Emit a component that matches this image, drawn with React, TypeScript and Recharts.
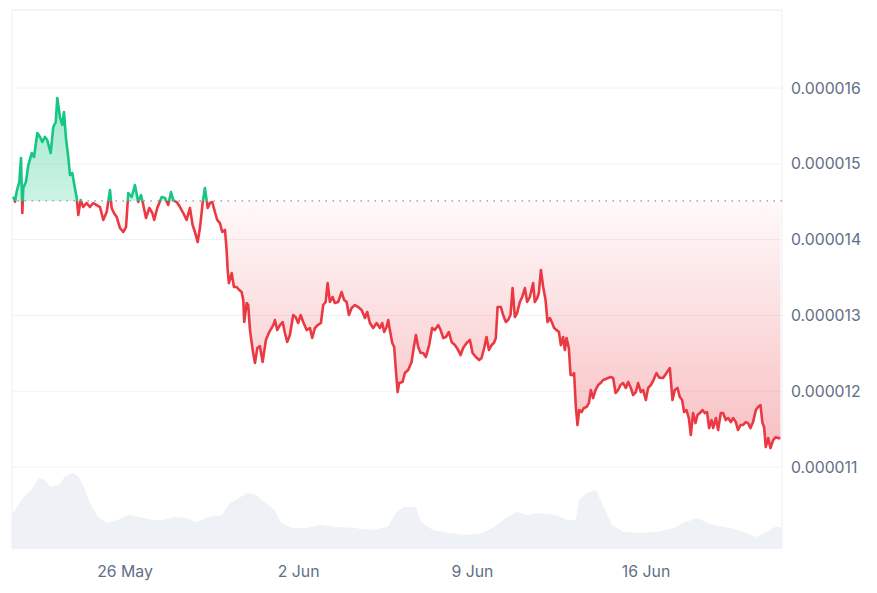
import {
  ComposedChart,
  Area,
  XAxis,
  YAxis,
  CartesianGrid,
  ReferenceLine,
  ReferenceArea,
} from "recharts";

// hours since 21 May 00:00
const priceHours = [
  12.0, 13.6, 15.2, 17.8, 19.4, 20.7, 21.6, 24.2, 26.5, 29.8, 32.0, 35.2, 37.8, 40.0, 42.6, 44.8, 48.1, 50.6, 53.0, 54.5,
  57.1, 59.3, 61.0, 62.9, 65.1, 66.8, 69.0, 71.0, 73.3, 74.8, 77.1, 79.6, 82.9, 86.1, 89.3, 92.6, 95.8, 99.0, 102.3, 105.5,
  107.1, 109.3, 112.0, 115.1, 118.3, 121.0, 123.2, 126.5, 129.6, 132.8,
  135.5, 137.7, 140.3, 143.5, 146.4, 148.3, 151.2, 155.5, 158.7, 161.8, 164.5, 166.7, 170.0, 173.2, 176.3, 179.6, 182.8,
  185.4, 187.7, 190.3, 192.5, 195.1, 197.3, 200.0, 202.2, 204.4, 207.0, 209.2, 211.8, 214.1, 216.7, 218.3, 219.3, 220.5,
  223.2, 225.4, 228.0, 230.5, 232.8, 234.4, 235.3, 237.7, 239.2, 240.9, 243.5, 245.7, 248.0, 250.5, 253.1, 256.3, 259.5,
  263.4, 265.0, 267.2, 269.9, 272.5, 274.7, 276.9, 279.5, 282.7, 285.0, 287.5, 289.9, 292.4, 295.7, 298.9, 301.1, 303.7,
  306.3, 309.5, 311.7, 314.1, 316.0, 318.2, 320.8, 323.0, 326.2, 329.5, 332.0, 334.4, 336.6, 339.2, 342.4, 345.6, 348.9,
  352.1, 354.3, 356.9, 360.1, 363.4, 366.6, 368.8, 370.7, 373.0, 374.6, 376.2, 378.5, 380.4, 382.0, 383.7,
  385.2, 388.5, 390.7, 393.9, 397.2, 399.4, 401.4, 403.6, 405.9, 408.4, 411.0, 414.2, 417.1, 419.7, 423.0, 425.3, 427.8,
  430.4, 433.3, 435.9, 439.1, 442.3, 444.6, 447.1, 450.4, 453.6, 456.2, 459.4, 462.6, 464.9, 467.4, 469.7, 472.0, 474.6,
  476.8, 478.7, 480.4, 483.6, 485.8, 488.4, 490.6, 492.9, 494.9, 497.1, 499.3, 501.9, 504.2, 506.8, 509.0, 511.6,
  514.8, 516.4, 518.7, 520.3, 522.3, 524.5, 526.8, 528.7, 531.0, 533.2, 535.1, 537.4, 539.7, 541.6, 543.8, 545.5, 547.1,
  549.3, 551.0, 552.9, 554.4, 556.1, 557.7, 559.3, 561.6, 563.8, 566.4, 568.7, 570.6, 572.8, 575.1, 577.7, 580.0, 582.5,
  585.1, 587.3, 589.7, 592.2, 594.5, 597.0, 599.3, 601.8, 604.4, 606.7, 609.3, 611.5, 614.1, 616.3, 619.0, 621.2, 623.8,
  626.0, 628.6, 630.8, 634.1, 636.7,
  640.5, 643.8, 647.0, 649.6, 651.8, 654.4, 656.7, 658.9, 660.8, 663.1, 665.4, 667.3, 669.5, 671.8, 673.8, 676.0, 678.6,
  680.8, 683.0, 685.0, 687.3, 688.9, 691.5, 693.7, 696.3, 698.5, 701.1, 703.4, 706.0, 708.2, 710.8, 713.0, 715.4, 717.9,
  720.5, 722.7, 725.0, 727.5, 730.2, 732.4, 734.7, 736.6, 738.2, 739.8, 742.1, 744.4, 746.9, 749.5, 751.7, 754.0,
];

// price in millionths of a dollar
const prices = [
  14.566, 14.5, 14.632, 14.764, 15.077, 14.351, 14.681, 14.764, 14.984, 15.142, 15.09, 15.406, 15.354, 15.288, 15.354,
  15.314, 15.142, 15.485, 15.551, 15.868, 15.617, 15.512, 15.683, 15.34, 15.09, 14.852, 14.879, 14.72, 14.549, 14.325,
  14.522, 14.43, 14.483, 14.43, 14.483, 14.456, 14.43, 14.259, 14.364, 14.654, 14.417, 14.351, 14.298, 14.153, 14.1,
  14.166, 14.615, 14.562, 14.72, 14.496,
  14.588, 14.456, 14.285, 14.417, 14.351, 14.259, 14.417, 14.562, 14.549, 14.456, 14.628, 14.522, 14.496, 14.43, 14.351,
  14.259, 14.417, 14.193, 14.1, 13.968, 14.153, 14.483, 14.681, 14.417, 14.483, 14.496, 14.364, 14.259, 14.219, 14.1,
  14.127, 13.863, 13.599, 13.427, 13.559, 13.375, 13.375, 13.335, 13.309, 13.203, 12.913, 13.164, 13.137, 12.807, 12.543,
  12.372, 12.57, 12.596, 12.385, 12.675, 12.781,
  12.873, 12.939, 12.807, 12.873, 12.913, 12.768, 12.649, 12.742, 13.005, 12.979, 12.9, 13.005, 12.913, 12.807, 12.834,
  12.702, 12.834, 12.873, 12.9, 13.137, 13.177, 13.427, 13.177, 13.243, 13.164, 13.177, 13.309, 13.203, 13.177, 13.005,
  13.098, 13.137, 13.111, 13.071, 12.966, 13.045, 12.9, 12.834, 12.9, 12.834, 12.9, 12.781, 12.847, 12.939, 12.807,
  12.636, 12.583, 12.28, 11.989,
  12.108, 12.122, 12.24, 12.28, 12.385, 12.583, 12.741, 12.583, 12.504, 12.504, 12.451, 12.609, 12.834, 12.807, 12.873,
  12.807, 12.702, 12.715, 12.781, 12.649, 12.609, 12.543, 12.477, 12.57, 12.636, 12.676, 12.504, 12.451, 12.412, 12.438,
  12.57, 12.715, 12.543, 12.609, 12.636, 12.702, 13.111, 13.111, 13.005, 12.913, 12.939, 13.005, 13.361, 12.979, 13.032,
  13.177, 13.243, 13.361, 13.177, 13.243,
  13.427, 13.177, 13.23, 13.296, 13.599, 13.375, 13.203, 12.913, 12.966, 12.9, 12.834, 12.807, 12.781, 12.609, 12.715,
  12.543, 12.702, 12.57, 12.214, 12.214, 12.24, 11.791, 11.554, 11.752, 11.725, 11.778, 11.791, 11.844, 12.016, 11.91,
  12.016, 12.082, 12.108, 12.148, 12.161, 12.174, 12.187, 12.174, 11.976, 12.016, 12.082, 12.108, 12.043, 12.122, 12.043,
  11.95, 11.989, 12.108, 11.989, 12.016, 11.884, 12.043, 12.082, 12.135, 12.24, 12.18,
  12.174, 12.24, 12.306, 11.884, 12.016, 12.043, 11.923, 11.884, 11.725, 11.752, 11.646, 11.422, 11.712, 11.58, 11.686,
  11.712, 11.752, 11.712, 11.725, 11.514, 11.62, 11.514, 11.646, 11.488, 11.712, 11.712, 11.62, 11.646, 11.593, 11.646,
  11.593, 11.488, 11.555, 11.555, 11.593, 11.58, 11.514, 11.593, 11.752, 11.791, 11.818, 11.58, 11.527, 11.264, 11.382,
  11.25, 11.355, 11.394, 11.382, 11.382,
];

const volumeHours = [
  10.7, 20.9, 29.1, 36.8, 42.6, 48.0, 56.2, 61.6, 69.7, 75.2, 80.3, 86.1, 93.9, 102.6, 113.2, 123.8, 134.5, 146.1, 156.7,
  167.4, 178.0, 189.6, 200.2, 213.8, 221.5, 230.2, 238.0, 246.7, 254.4, 265.0, 270.8, 281.5, 295.0, 308.5, 325.0, 341.4,
  357.9, 374.3, 382.0, 389.8, 401.4, 406.2, 417.8, 433.3, 449.7, 466.2, 476.8, 488.4, 499.0, 509.7, 520.3, 536.8, 547.4,
  556.1, 559.0, 566.7, 575.4, 583.2, 590.9, 602.5, 618.0, 634.4, 650.9, 659.6, 673.1, 688.6, 705.0, 721.4, 730.2, 740.8,
  748.5, 755.5,
];

const volumes = [
  33, 50, 58, 70, 68, 61, 63, 71, 75, 71, 61, 45, 31, 25, 28, 33, 31, 28, 28, 31, 30, 26, 31, 33, 45, 50, 55, 53, 46, 38,
  25, 20, 20, 23, 21, 20, 18, 21, 35, 41, 41, 26, 18, 15, 13, 15, 21, 30, 36, 33, 35, 33, 28, 28, 48, 55, 58, 41, 23, 16,
  15, 16, 20, 25, 30, 23, 20, 15, 11, 16, 21, 21,
];

const dateTicks = [120, 288, 456, 624];
const dateLabels = ["26 May", "2 Jun", "9 Jun", "16 Jun"];
const priceTicks = [11, 12, 13, 14, 15, 16];
const openPrice = 14.51;

const rows: { h: number; price?: number; volume?: number }[] = [
  ...priceHours.map((h, i) => ({ h, price: prices[i] })),
  ...volumeHours.map((h, i) => ({ h, volume: volumes[i] })),
].sort((a, b) => a.h - b.h);

const hi = Math.max(...prices);
const lo = Math.min(...prices);
const split = (hi - openPrice) / (hi - lo);

const GREEN = "#16c784";
const RED = "#ea3943";
const tickStyle = { fill: "#616e85", fontSize: 15.8 };

export default function App() {
  return (
    <div style={{ fontFamily: "Inter, 'Open Sans', sans-serif" }}>
      <ComposedChart
        width={869}
        height={585}
        data={rows}
        margin={{ top: 2, right: 5, left: 4, bottom: 15 }}
      >
        <defs>
          <linearGradient id="priceStroke" x1="0" y1="0" x2="0" y2="1">
            <stop offset={0} stopColor={GREEN} />
            <stop offset={split} stopColor={GREEN} />
            <stop offset={split} stopColor={RED} />
            <stop offset={1} stopColor={RED} />
          </linearGradient>
          <linearGradient id="priceFill" x1="0" y1="0" x2="0" y2="1">
            <stop offset={0} stopColor={GREEN} stopOpacity={0.4} />
            <stop offset={split} stopColor={GREEN} stopOpacity={0.22} />
            <stop offset={split} stopColor={RED} stopOpacity={0.03} />
            <stop offset={1} stopColor={RED} stopOpacity={0.32} />
          </linearGradient>
        </defs>
        <CartesianGrid vertical={false} yAxisId="price" stroke="#eff2f5" />
        <XAxis
          dataKey="h"
          type="number"
          domain={[10.7, 755.5]}
          allowDataOverflow
          ticks={dateTicks}
          tickFormatter={(v: number) => dateLabels[dateTicks.indexOf(v)]}
          axisLine={false}
          tickLine={false}
          tickSize={0}
          tickMargin={18}
          height={30}
          tick={tickStyle}
        />
        <YAxis
          yAxisId="price"
          orientation="right"
          domain={[9.932, 17.029]}
          allowDataOverflow
          ticks={priceTicks}
          tickFormatter={(v: number) => (v / 1e6).toFixed(6)}
          axisLine={false}
          tickLine={false}
          tickSize={0}
          tickMargin={9}
          width={90}
          tick={tickStyle}
        />
        <YAxis yAxisId="vol" hide domain={[0, (max: number) => max * 7.17]} />
        <ReferenceArea
          yAxisId="price"
          x1={10.7}
          x2={755.5}
          y1={9.932}
          y2={17.029}
          fill="none"
          stroke="#eceff3"
        />
        <Area
          yAxisId="vol"
          dataKey="volume"
          type="linear"
          fill="#eef1f5"
          fillOpacity={1}
          stroke="none"
          connectNulls
          dot={false}
          activeDot={false}
          isAnimationActive={false}
        />
        <ReferenceLine
          yAxisId="price"
          y={openPrice}
          stroke="#8b93a1"
          strokeDasharray="1.5 5.5"
          strokeWidth={1.2}
        />
        <Area
          yAxisId="price"
          dataKey="price"
          type="linear"
          baseValue={openPrice}
          stroke="url(#priceStroke)"
          strokeWidth={2.6}
          strokeLinejoin="round"
          fill="url(#priceFill)"
          fillOpacity={1}
          connectNulls
          dot={false}
          activeDot={false}
          isAnimationActive={false}
        />
      </ComposedChart>
    </div>
  );
}
